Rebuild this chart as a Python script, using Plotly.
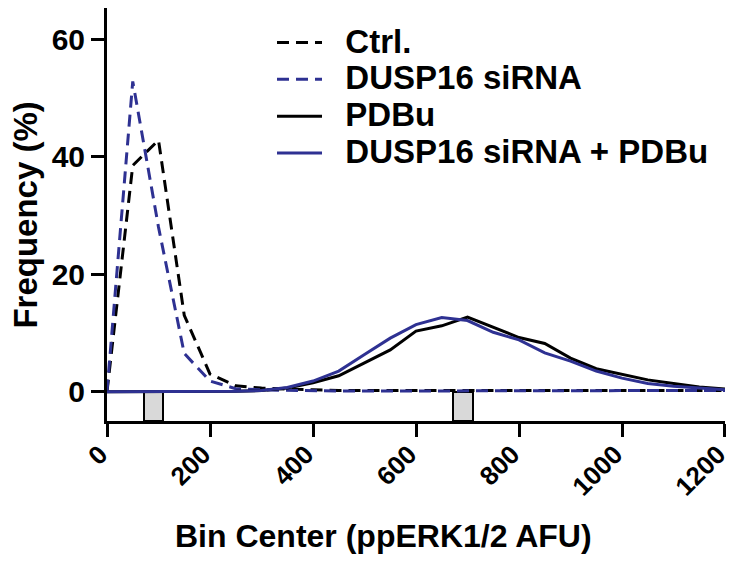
import plotly.graph_objects as go

bin_centers = [0, 50, 100, 150, 200, 250, 300, 350, 400, 450, 500, 550, 600,
               650, 700, 750, 800, 850, 900, 950, 1000, 1050, 1100, 1150, 1200]

ctrl = [0, 38.5, 42.8, 13.0, 3.0, 1.0, 0.6, 0.4, 0.3, 0.2, 0.2, 0.2, 0.2,
        0.2, 0.15, 0.15, 0.1, 0.1, 0.1, 0.1, 0.1, 0.1, 0.1, 0.1, 0.2]
dusp16_sirna = [0, 52.8, 28.0, 6.5, 1.8, 0.5, 0.3, 0.2, 0.2, 0.1, 0.1, 0.1, 0.1,
                0.1, 0.1, 0.1, 0.1, 0.1, 0.1, 0.1, 0.1, 0.1, 0.1, 0.1, 0.2]
pdbu = [0, 0, 0, 0, 0, 0.05, 0.2, 0.6, 1.5, 2.7, 4.9, 7.1, 10.3,
        11.2, 12.7, 11.0, 9.2, 8.2, 5.7, 3.9, 2.9, 2.0, 1.4, 0.8, 0.45]
dusp16_sirna_pdbu = [0, 0, 0, 0, 0, 0.05, 0.2, 0.7, 1.8, 3.5, 6.3, 9.1, 11.4,
                     12.6, 12.1, 10.1, 8.8, 6.6, 5.2, 3.5, 2.3, 1.4, 0.9, 0.6, 0.3]

series_names = ["Ctrl.", "DUSP16 siRNA", "PDBu", "DUSP16 siRNA + PDBu"]

median_markers = [90, 691]
marker_height = [5, 5]

x_ticks = [0, 200, 400, 600, 800, 1000, 1200]
y_ticks = [0, 20, 40, 60]

x_title = "Bin Center (ppERK1/2 AFU)"
y_title = "Frequency (%)"

BLUE = "#2E3192"
FONT = "Liberation Sans, Arial, sans-serif"


def legend_label(name):
    return '<span style="font-size:33px">\u00a0\u00a0' + name + "</span>"


fig = go.Figure()

fig.add_trace(go.Bar(
    x=median_markers, y=marker_height, base=-5, width=38,
    marker=dict(color="#D9D9D9", line=dict(color="black", width=2)),
    showlegend=False, hoverinfo="skip",
))

styles = [("black", "12px,7px"), (BLUE, "12px,7px"), ("black", "solid"), (BLUE, "solid")]
for name, values, (color, dash) in zip(series_names,
                                       [ctrl, dusp16_sirna, pdbu, dusp16_sirna_pdbu],
                                       styles):
    fig.add_trace(go.Scatter(x=bin_centers, y=values, mode="lines",
                             name=legend_label(name),
                             line=dict(color=color, width=3, dash=dash)))

fig.update_layout(
    width=732, height=564,
    margin=dict(l=107, r=7, t=8, b=143, autoexpand=False),
    paper_bgcolor="white", plot_bgcolor="white",
    font=dict(family=FONT, color="black"),
    showlegend=True,
    legend=dict(
        x=0.267, y=0.973, xanchor="left", yanchor="top",
        font=dict(family=FONT, size=26, weight="bold", color="black"),
        itemwidth=45, bgcolor="rgba(0,0,0,0)", tracegroupgap=0,
    ),
    bargap=0,
    annotations=[
        dict(text=x_title, xref="paper", yref="paper", x=0.4474, y=-0.2785,
             xanchor="center", yanchor="middle", showarrow=False,
             font=dict(family=FONT, size=32, weight="bold", color="black")),
        dict(text=y_title, xref="paper", yref="paper", x=-0.1317, y=0.4988,
             xanchor="center", yanchor="middle", showarrow=False, textangle=-90,
             font=dict(family=FONT, size=33, weight="bold", color="black")),
    ],
)

fig.update_xaxes(
    range=[0, 1200.01], tickvals=x_ticks, ticktext=[str(v) for v in x_ticks],
    tickangle=-45, ticks="outside", ticklen=13, tickwidth=3, tickcolor="black",
    showline=True, linewidth=3, linecolor="black", showgrid=False, zeroline=False,
    automargin=False, ticklabeloverflow="allow",
    ticklabelshift=-7, ticklabelstandoff=-8,
    tickfont=dict(family=FONT, size=26, weight="bold", color="black"),
)
fig.update_yaxes(
    range=[-5, 65.3], tickvals=y_ticks, ticktext=[str(v) for v in y_ticks],
    ticks="outside", ticklen=13, tickwidth=3, tickcolor="black",
    showline=True, linewidth=3, linecolor="black", showgrid=False, zeroline=False,
    automargin=False,
    tickfont=dict(family=FONT, size=30, weight="bold", color="black"),
)

fig.write_html(
    "out.html",
    config={"displayModeBar": False},
    post_script="document.body.style.margin='0';document.body.style.padding='0';",
)
